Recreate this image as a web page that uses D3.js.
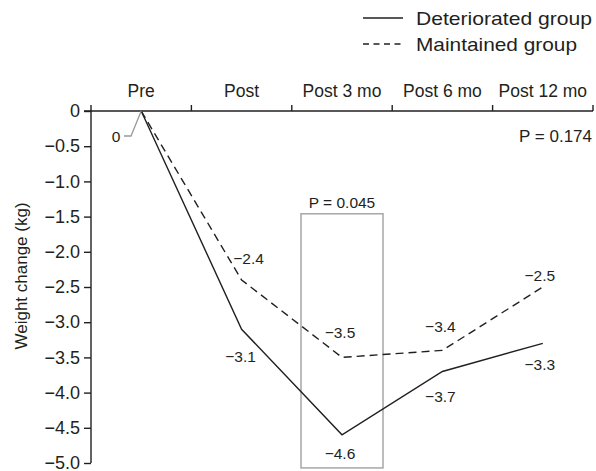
<!DOCTYPE html>
<html>
<head>
<meta charset="utf-8">
<script src="https://cdn.jsdelivr.net/npm/d3@7"></script>
<style>
  body { margin: 0; background: #fff; }
  svg { display: block; font-family: "Liberation Sans", Arial, sans-serif; }
</style>
</head>
<body>
<svg id="chart" width="596" height="471"></svg>
<script>
// ---- data ----
const categories = ["Pre", "Post", "Post 3 mo", "Post 6 mo", "Post 12 mo"];
const deteriorated = [0, -3.1, -4.6, -3.7, -3.3];
const maintained = [0, -2.4, -3.5, -3.4, -2.5];
const yTicks = [0, -0.5, -1.0, -1.5, -2.0, -2.5, -3.0, -3.5, -4.0, -4.5, -5.0];
const seriesNames = ["Deteriorated group", "Maintained group"];
const pOverall = "P = 0.174";
const pPost3 = "P = 0.045";

// ---- layout ----
const ink = "#231f20";
const svg = d3.select("#chart");
const x = d3.scaleBand().domain(categories).range([91, 593]);
const y = d3.scaleLinear().domain([0, -5]).range([111, 463]);
const cx = c => x(c) + x.bandwidth() / 2;
const fmt = v => v === 0 ? "0" : d3.format(".1f")(v).replace("-", "\u2212");

// top axis
const topAxis = svg.append("g").attr("transform", `translate(0,${y(0)})`)
  .call(d3.axisTop(x).tickSize(0).tickPadding(14));
topAxis.select(".domain").remove();
topAxis.selectAll("text").attr("font-size", 17.5).attr("fill", ink)
  .attr("font-family", "Liberation Sans, Arial, sans-serif");
svg.append("line").attr("x1", 84).attr("x2", 593).attr("y1", y(0)).attr("y2", y(0))
  .attr("stroke", ink).attr("stroke-width", 1.4);
const bounds = categories.map(c => x(c)).concat([x.range()[1]]);
svg.append("g").selectAll("line").data(bounds).join("line")
  .attr("x1", d => d).attr("x2", d => d)
  .attr("y1", y(0)).attr("y2", y(0) - 6)
  .attr("stroke", ink).attr("stroke-width", 1.4);

// left axis
const leftAxis = svg.append("g").attr("transform", `translate(${x.range()[0]},0)`)
  .call(d3.axisLeft(y).tickValues(yTicks).tickFormat(fmt).tickSize(7).tickPadding(4));
leftAxis.select(".domain").attr("stroke", ink).attr("stroke-width", 1.4)
  .attr("d", `M0,${y(0)}V${y(-5)}`);
leftAxis.selectAll(".tick line").attr("stroke", ink).attr("stroke-width", 1.4);
leftAxis.selectAll("text").attr("font-size", 18).attr("fill", ink)
  .attr("font-family", "Liberation Sans, Arial, sans-serif");

// y axis title
svg.append("text").attr("transform", "translate(27,276) rotate(-90)")
  .attr("text-anchor", "middle").attr("font-size", 17).attr("fill", ink)
  .text("Weight change (kg)");

// P=0.045 box
svg.append("rect")
  .attr("x", cx("Post 3 mo") - 41).attr("width", 82)
  .attr("y", y(-1.46)).attr("height", y(-5.07) - y(-1.46))
  .attr("fill", "none").attr("stroke", "#a7a7a7").attr("stroke-width", 1.5);
svg.append("text").attr("x", cx("Post 3 mo")).attr("y", y(-1.46) - 6)
  .attr("text-anchor", "middle").attr("font-size", 15.5).attr("fill", ink).text(pPost3);
svg.append("text").attr("x", 592).attr("y", 142)
  .attr("text-anchor", "end").attr("font-size", 17).attr("fill", ink).text(pOverall);

// lines
const line = d3.line().x((d, i) => cx(categories[i])).y(d => y(d));
svg.append("path").datum(deteriorated).attr("d", line)
  .attr("fill", "none").attr("stroke", ink).attr("stroke-width", 1.4);
svg.append("path").datum(maintained).attr("d", line)
  .attr("fill", "none").attr("stroke", ink).attr("stroke-width", 1.4)
  .attr("stroke-dasharray", "8,5");

// value labels (offsets in px relative to points)
const detOffsets = [null, [-1, 33], [-2, 24], [-2, 31], [-3, 27]];
const mntOffsets = [null, [7, -16], [-2, -19], [-2, -18], [-3, -6]];
function labels(vals, offs) {
  svg.append("g").selectAll("text").data(vals.map((v, i) => ({v, i}))
      .filter(d => offs[d.i]))
    .join("text")
    .attr("x", d => cx(categories[d.i]) + offs[d.i][0])
    .attr("y", d => y(d.v) + offs[d.i][1])
    .attr("text-anchor", "middle").attr("font-size", 15.5).attr("fill", ink)
    .text(d => fmt(d.v));
}
labels(deteriorated, detOffsets);
labels(maintained, mntOffsets);

// "0" label with leader
svg.append("text").attr("x", 116).attr("y", 142).attr("text-anchor", "middle")
  .attr("font-size", 15.5).attr("fill", ink).text(fmt(deteriorated[0]));
svg.append("path")
  .attr("d", `M124,136H131L${cx("Pre")},${y(0)}`)
  .attr("fill", "none").attr("stroke", "#999").attr("stroke-width", 1.3);

// legend
const legY = [18, 44];
seriesNames.forEach((n, i) => {
  svg.append("line").attr("x1", 363).attr("x2", 403).attr("y1", legY[i]).attr("y2", legY[i])
    .attr("stroke", ink).attr("stroke-width", 1.3)
    .attr("stroke-dasharray", i === 1 ? "6,4.5" : null);
  svg.append("text").attr("x", 416).attr("y", legY[i] + 6.5)
    .attr("font-size", 18.5).attr("fill", ink)
    .attr("textLength", i === 0 ? 176 : 161).attr("lengthAdjust", "spacingAndGlyphs")
    .text(n);
});
</script>
</body>
</html>
